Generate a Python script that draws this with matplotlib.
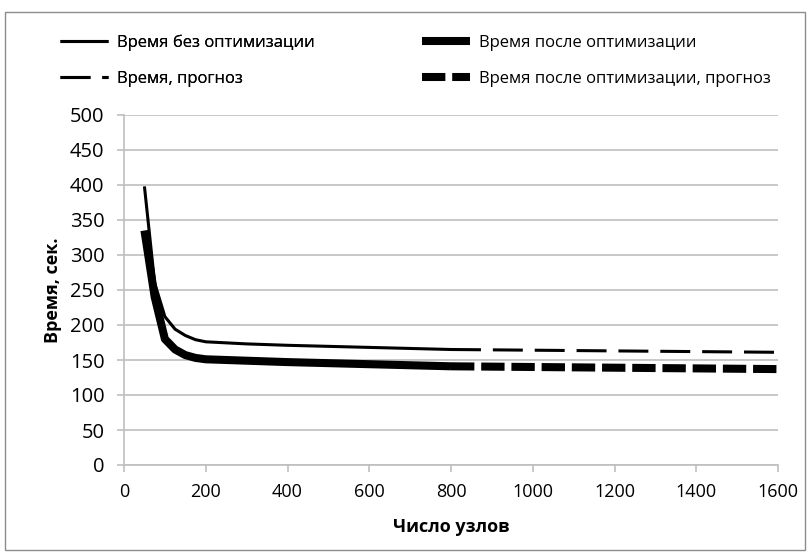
import matplotlib
matplotlib.use("Agg")
import matplotlib.pyplot as plt
from matplotlib.patches import Rectangle

plt.rcParams['font.family'] = ['Open Sans', 'DejaVu Sans']

# Data
nodes = [50, 75, 100, 125, 150, 175, 200, 300, 400, 600, 800]
time_no_opt = [398, 260, 212, 194, 185, 179, 176, 173, 171, 168, 165]
time_opt = [335, 240, 180, 165, 157, 153, 151, 149, 147, 144, 141]
nodes_forecast = [800, 1200, 1600]
time_no_opt_forecast = [165, 163, 161]
time_opt_forecast = [141, 139, 137]

labels = ["Время без оптимизации", "Время после оптимизации",
          "Время, прогноз", "Время после оптимизации, прогноз"]
x_ticks = [0, 200, 400, 600, 800, 1000, 1200, 1400, 1600]
y_ticks = [0, 50, 100, 150, 200, 250, 300, 350, 400, 450, 500]

W, H = 811, 557
fig = plt.figure(figsize=(W / 100, H / 100), dpi=100)
ax = fig.add_axes([124 / W, 1 - 465 / H, 654 / W, 350 / H])

fig.patches.append(Rectangle((5 / W, 1 - 550 / H), 800 / W, 538 / H,
                             transform=fig.transFigure, fill=False,
                             edgecolor='#8c8c8c', linewidth=1.0))

thin, thick = 2.2, 5.8
l1, = ax.plot(nodes, time_no_opt, color='black', lw=thin,
              solid_capstyle='butt', solid_joinstyle='round')
l2, = ax.plot(nodes, time_opt, color='black', lw=thick,
              solid_capstyle='butt', solid_joinstyle='round')
l3, = ax.plot(nodes_forecast, time_no_opt_forecast, color='black', lw=thin,
              dashes=(9.8, 3.9), dash_capstyle='butt')
l4, = ax.plot(nodes_forecast, time_opt_forecast, color='black', lw=thick,
              dashes=(2.9, 0.85), dash_capstyle='butt')

ax.set_xlim(0, 1600)
ax.set_ylim(0, 500)
ax.set_xticks(x_ticks)
ax.set_yticks(y_ticks)
ax.set_xticklabels([str(t) for t in x_ticks], fontsize=13)
ax.set_yticklabels([str(t) for t in y_ticks], fontsize=14.5)
ax.yaxis.grid(True, color='#bfbfbf', lw=1.2)
ax.set_axisbelow(True)
for s in ['top', 'right']:
    ax.spines[s].set_visible(False)
for s in ['left', 'bottom']:
    ax.spines[s].set_color('#bfbfbf')
    ax.spines[s].set_linewidth(1.2)
ax.tick_params(axis='both', colors='#bfbfbf', length=5, width=1.2, labelcolor='black')
ax.tick_params(axis='x', pad=8)
ax.tick_params(axis='y', pad=9)

ax.set_xlabel("Число узлов", fontsize=13, fontweight='bold', labelpad=12)
ax.set_ylabel("Время, сек.", fontsize=13, fontweight='bold', labelpad=6)

common = dict(loc='center left', frameon=False, fontsize=12, handlelength=2.9,
              handletextpad=0.5, labelspacing=1.2, borderpad=0, borderaxespad=0)
leg1 = fig.legend([l1, l3], [labels[0], labels[2]],
                  bbox_to_anchor=(60 / W, 1 - 60.5 / H), **common)
fig.add_artist(leg1)
leg2 = fig.legend([l2, l4], [labels[1], labels[3]],
                  bbox_to_anchor=(422 / W, 1 - 60.5 / H), **common)

fig.savefig("out.png", dpi=100)
